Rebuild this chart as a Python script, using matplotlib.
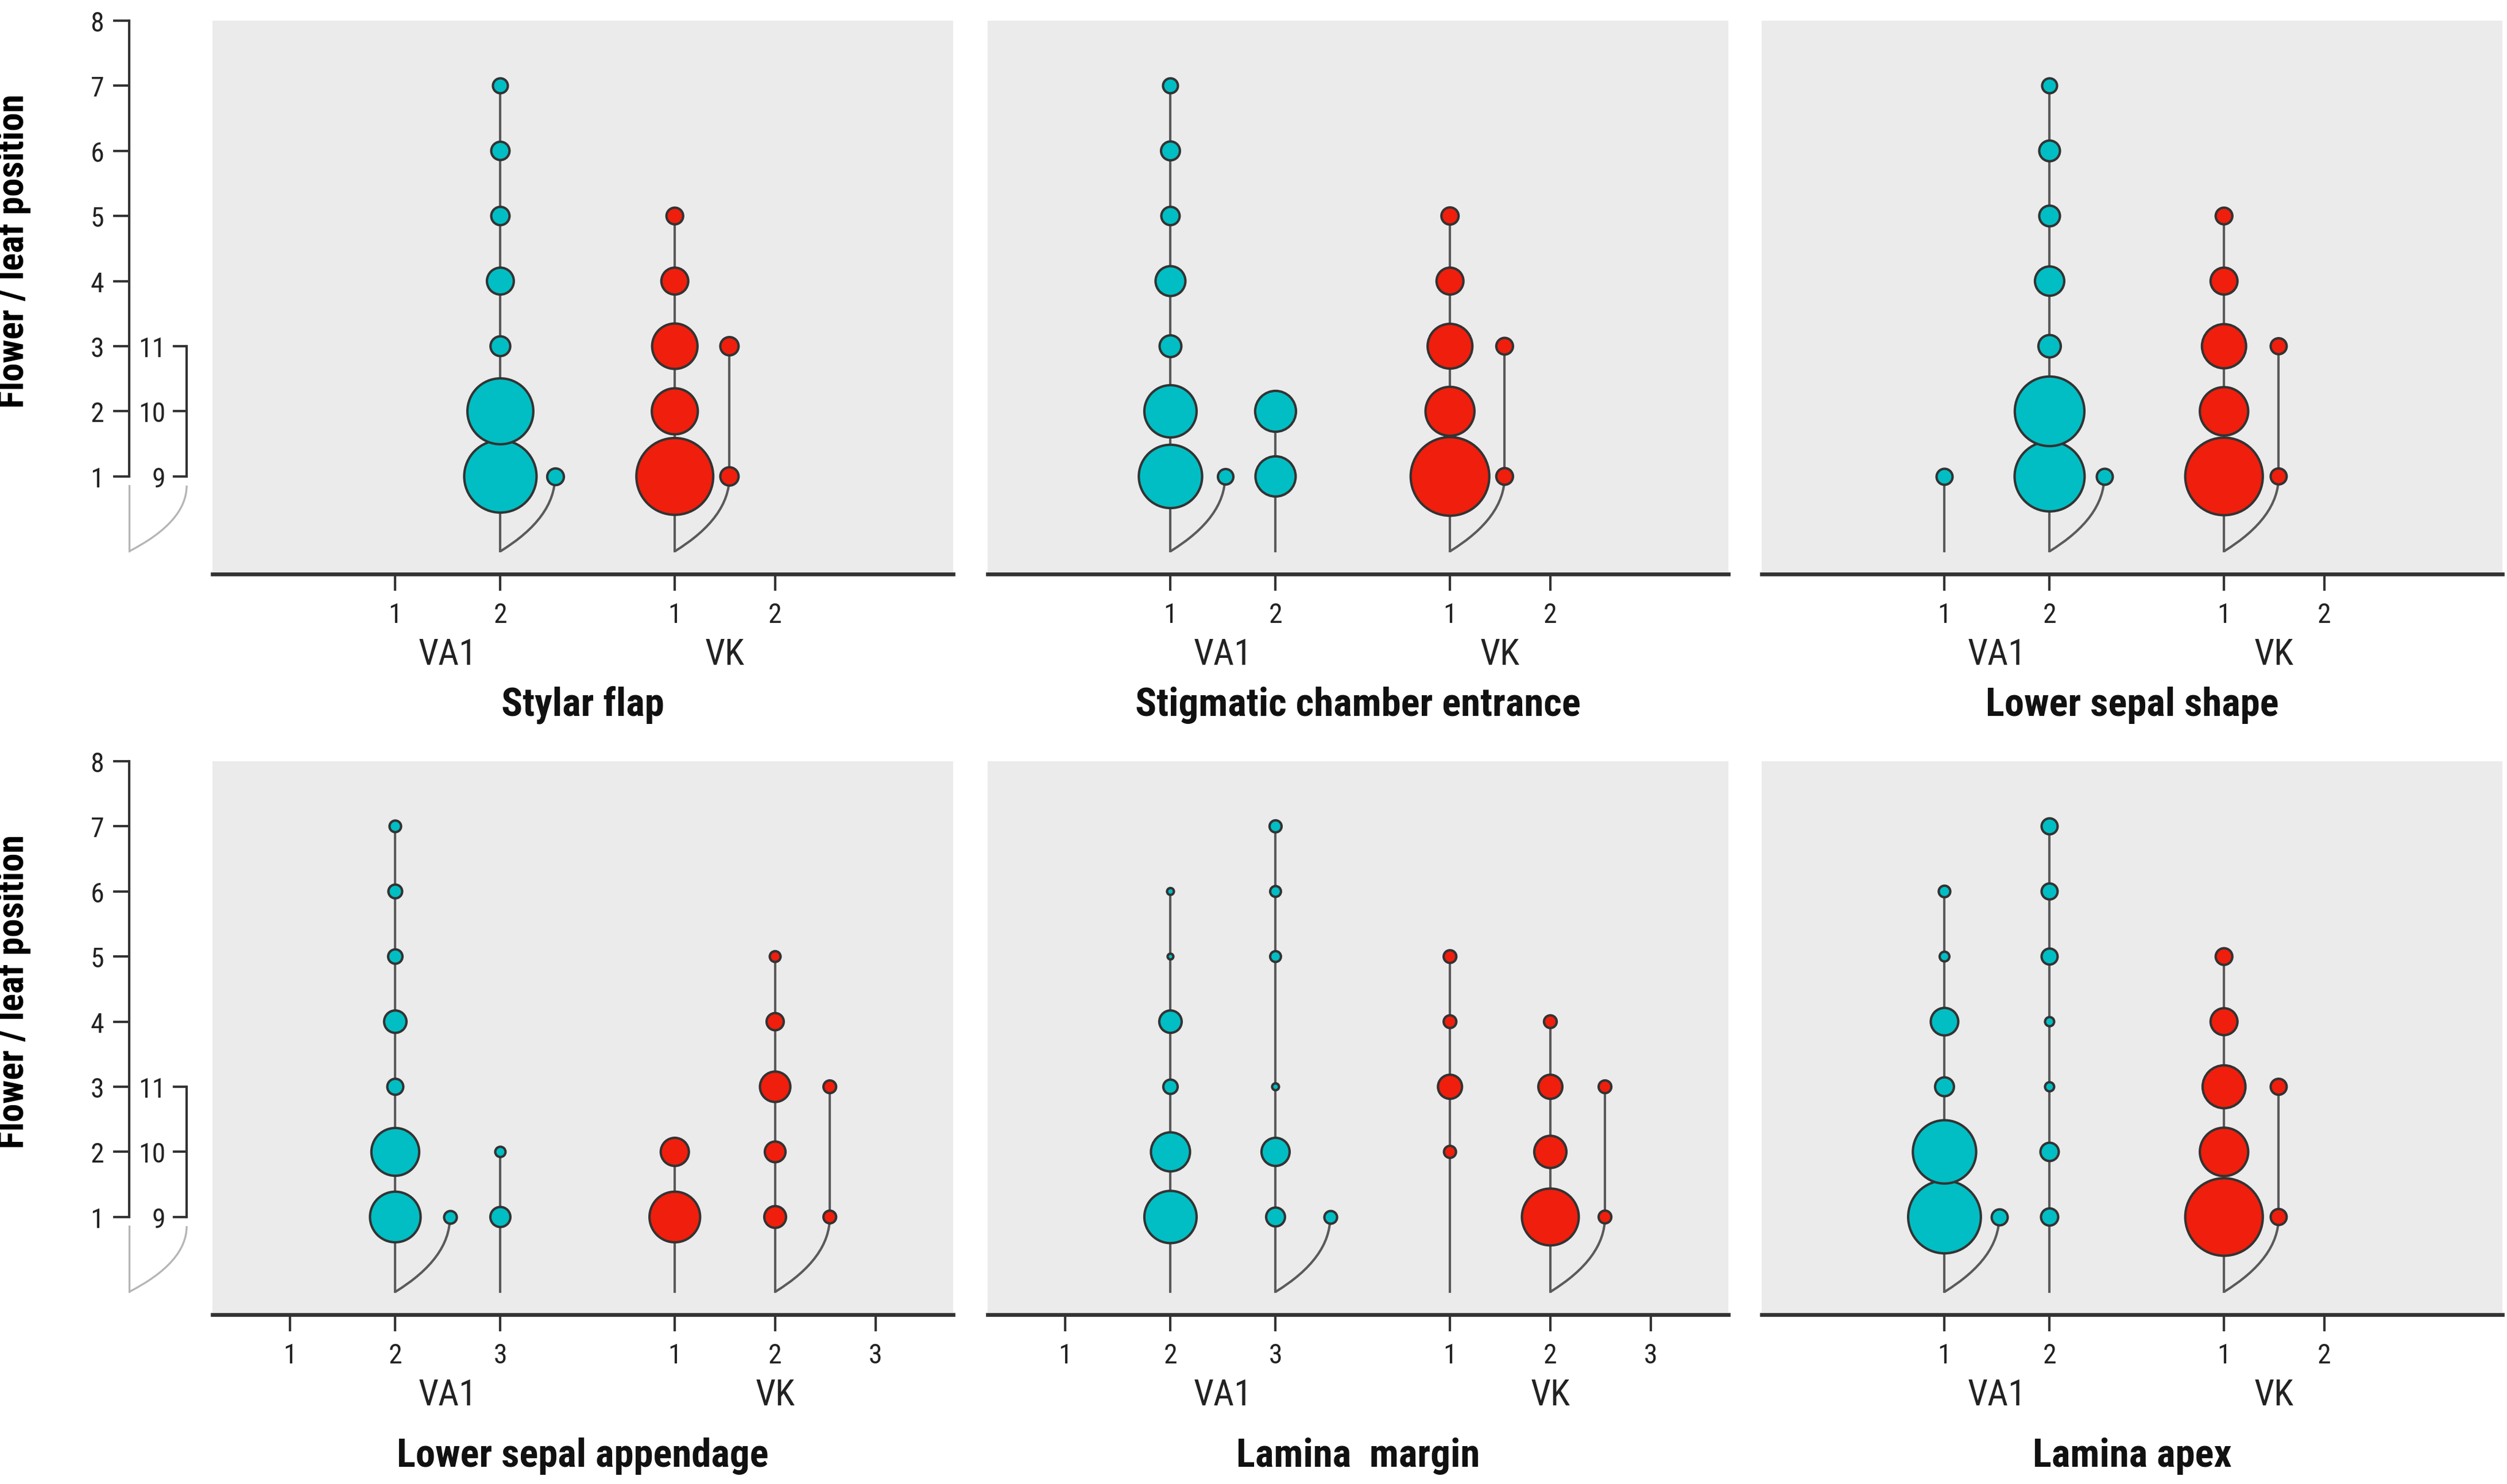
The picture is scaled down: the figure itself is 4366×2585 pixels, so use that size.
import numpy as np
import matplotlib.pyplot as plt
from matplotlib.path import Path
from matplotlib.patches import PathPatch

plt.rcParams['font.family'] = ['Roboto Condensed', 'Liberation Sans Narrow', 'Roboto', 'DejaVu Sans']

TEAL = '#00BEC3'
RED = '#F01E0C'
DARK = '#333333'

# ---- data: (group, category, flower/leaf positions, frequency) ----
titles = ['Stylar flap', 'Stigmatic chamber entrance', 'Lower sepal shape',
          'Lower sepal appendage', 'Lamina  margin', 'Lamina apex']
va1_ncat = [2, 2, 2, 3, 3, 2]
vk_ncat = [2, 2, 2, 3, 3, 2]

stylar_flap = [
    ('VA1', 2, [1, 2, 3, 4, 5, 6, 7], [94, 78, 7, 13, 6, 6, 4]),
    ('VK', 1, [1, 2, 3, 4, 5], [106, 38, 37, 13, 5]),
]
stylar_flap_side = [('VA1', 2, [9], [5]), ('VK', 1, [9, 11], [6, 6])]

stigmatic_chamber = [
    ('VA1', 1, [1, 2, 3, 4, 5, 6, 7], [72, 49, 8.5, 16, 6, 6.4, 4]),
    ('VA1', 2, [1, 2], [29, 30]),
    ('VK', 1, [1, 2, 3, 4, 5], [111, 43, 36, 13, 5.3]),
]
stigmatic_chamber_side = [('VA1', 1, [9], [4.3]), ('VK', 1, [9, 11], [5, 5])]

lower_sepal_shape = [
    ('VA1', 1, [1], [4.6]),
    ('VA1', 2, [1, 2, 3, 4, 5, 6, 7], [88, 87, 9, 15.4, 7.7, 7.7, 4]),
    ('VK', 1, [1, 2, 3, 4, 5], [108, 42, 35, 13, 5]),
]
lower_sepal_shape_side = [('VA1', 2, [9], [4.6]), ('VK', 1, [9, 11], [4.6, 4.6])]

lower_sepal_app = [
    ('VA1', 2, [1, 2, 3, 4, 5, 6, 7], [46, 41, 4.6, 9, 3.7, 3.4, 2.4]),
    ('VA1', 3, [1, 2], [7.2, 1.9]),
    ('VK', 1, [1, 2], [46, 14.2]),
    ('VK', 2, [1, 2, 3, 4, 5], [8.5, 7.7, 16.6, 5.3, 2.1]),
]
lower_sepal_app_side = [('VA1', 2, [9], [2.9]), ('VK', 2, [9, 11], [2.9, 2.9])]

lamina_margin = [
    ('VA1', 2, [1, 2, 3, 4, 5, 6], [49, 27.4, 3.7, 9, 0.6, 0.85]),
    ('VA1', 3, [1, 2, 3, 5, 6, 7], [6.4, 14.2, 0.85, 2.1, 2.1, 2.6]),
    ('VK', 1, [2, 3, 4, 5], [2.6, 10.4, 2.9, 2.9]),
    ('VK', 2, [1, 2, 3, 4], [58, 18.6, 10.4, 2.9]),
]
lamina_margin_side = [('VA1', 3, [9], [2.9]), ('VK', 2, [9, 11], [2.9, 2.9])]

lamina_apex = [
    ('VA1', 1, [1, 2, 3, 4, 5, 6], [95, 72, 6.4, 13.6, 1.7, 2.4]),
    ('VA1', 2, [1, 2, 3, 4, 5, 6, 7], [5.3, 6, 1.5, 1.5, 4.6, 4.6, 4.6]),
    ('VK', 1, [1, 2, 3, 4, 5], [108, 42, 33, 13, 5]),
]
lamina_apex_side = [('VA1', 1, [9], [4.6]), ('VK', 1, [9, 11], [4.6, 4.6])]

stems = [stylar_flap, stigmatic_chamber, lower_sepal_shape,
         lower_sepal_app, lamina_margin, lamina_apex]
sides = [stylar_flap_side, stigmatic_chamber_side, lower_sepal_shape_side,
         lower_sepal_app_side, lamina_margin_side, lamina_apex_side]

colors = {'VA1': TEAL, 'VK': RED}
STEM_BOTTOM = -0.15
SIDE_DX = 0.52


def xpos(group, cat, nva):
    if group == 'VA1':
        return cat + (3 - nva)
    return 4.66 + 0.955 * (cat - 1)


def msize(v):
    return 9.73 * np.asarray(v, dtype=float)


W, H = 4366, 2586
fig = plt.figure(figsize=(W / 300, H / 300), dpi=300)

lefts = [370, 1720, 3068]
row_top = [37, 1327]
axw, axh = 1290, 964
title_off = [-54.5, -59]

for k in range(6):
    r, c = divmod(k, 3)
    ax = fig.add_axes([lefts[c] / W, 1 - (row_top[r] + axh) / H, axw / W, axh / H])
    ax.set_facecolor('#EBEBEB')
    ax.set_xlim(0.26, 0.26 + axw / 183)
    ax.set_ylim(-0.5, 8)
    nva, nvk = va1_ncat[k], vk_ncat[k]

    for g, cat, pos, vals in stems[k]:
        x = xpos(g, cat, nva)
        ax.plot([x, x], [STEM_BOTTOM, max(pos)], color='#5a5a5a', lw=1.0, zorder=1)
        ax.scatter([x] * len(pos), pos, s=msize(vals), color=colors[g],
                   edgecolors=DARK, linewidths=1.0, zorder=3)

    for g, cat, pos, vals in sides[k]:
        x0 = xpos(g, cat, nva)
        x1 = x0 + SIDE_DX
        ys = [p - 8 for p in pos]
        y1 = min(ys)
        path = Path([(x0, STEM_BOTTOM), (x1, STEM_BOTTOM + 0.45 * (y1 - STEM_BOTTOM)), (x1, y1)],
                    [Path.MOVETO, Path.CURVE3, Path.CURVE3])
        ax.add_patch(PathPatch(path, fc='none', ec='#5a5a5a', lw=1.0, zorder=1))
        if len(ys) > 1:
            ax.plot([x1, x1], [y1, max(ys)], color='#5a5a5a', lw=1.0, zorder=1)
        ax.scatter([x1] * len(ys), ys, s=msize(vals), color=colors[g],
                   edgecolors=DARK, linewidths=1.0, zorder=3)

    # x axis
    va_x = [xpos('VA1', i, nva) for i in range(1, nva + 1)]
    vk_x = [xpos('VK', j, nva) for j in range(1, nvk + 1)]
    ax.set_xticks(va_x + vk_x)
    ax.set_xticklabels([str(i) for i in range(1, nva + 1)] + [str(j) for j in range(1, nvk + 1)])
    ax.tick_params(axis='x', direction='out', length=7, width=1, color=DARK,
                   labelsize=11.5, pad=4.5, labelcolor='#222222')
    for s in ['top', 'right']:
        ax.spines[s].set_visible(False)
    ax.spines['bottom'].set_color(DARK)
    ax.spines['bottom'].set_linewidth(1.6)

    ax.annotate('VA1', xy=(2.5, 0), xycoords=('data', 'axes fraction'),
                xytext=(0, -33.5), textcoords='offset points', ha='center', va='center',
                fontsize=15, color='#222222')
    ax.annotate('VK', xy=(np.mean(vk_x), 0), xycoords=('data', 'axes fraction'),
                xytext=(0, -33.5), textcoords='offset points', ha='center', va='center',
                fontsize=15, color='#222222')
    ax.annotate(titles[k], xy=(0.5, 0), xycoords='axes fraction',
                xytext=(0, title_off[r]), textcoords='offset points', ha='center', va='center',
                fontsize=16.5, fontweight='bold', color='#111111')

    if c == 0:
        ax.spines['left'].set_position(('outward', 34.8))
        ax.spines['left'].set_bounds(1, 8)
        ax.spines['left'].set_color(DARK)
        ax.spines['left'].set_linewidth(1.0)
        ax.set_yticks(range(1, 9))
        ax.tick_params(axis='y', direction='out', length=6.7, width=1, color=DARK,
                       labelsize=11.5, pad=3.8, labelcolor='#222222')
        ax.set_ylabel('Flower / leaf position', fontsize=15.5, fontweight='bold')
        ax.yaxis.set_label_coords(-0.245, 0.585)

        sec = ax.secondary_yaxis(-0.0348, functions=(lambda y: y + 8, lambda y: y - 8))
        sec.spines['left'].set_bounds(9, 11)
        sec.spines['left'].set_color(DARK)
        sec.spines['left'].set_linewidth(1.0)
        sec.set_yticks([9, 10, 11])
        sec.tick_params(axis='y', direction='out', length=5.8, width=1, color=DARK,
                        labelsize=11.5, pad=3, labelcolor='#222222')

        # light connector between the two position scales
        xm, xs = 0.26 - 145 / 183, 0.26 - 44.9 / 183
        ax.plot([xm, xm], [0.86, STEM_BOTTOM], color='#b5b5b5', lw=0.8, clip_on=False)
        p = Path([(xm, STEM_BOTTOM), (xs, STEM_BOTTOM + 0.45 * (0.86 - STEM_BOTTOM)), (xs, 0.86)],
                 [Path.MOVETO, Path.CURVE3, Path.CURVE3])
        ax.add_patch(PathPatch(p, fc='none', ec='#b5b5b5', lw=0.8, clip_on=False))
    else:
        ax.spines['left'].set_visible(False)
        ax.set_yticks([])

fig.savefig('out.png', dpi=300)
